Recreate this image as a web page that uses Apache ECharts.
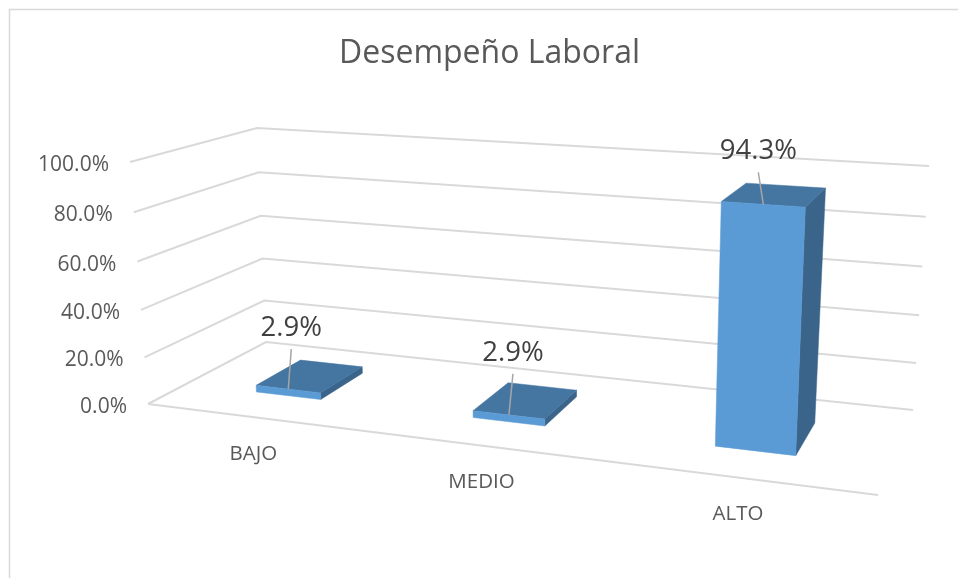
<!DOCTYPE html>
<html><head><meta charset="utf-8">
<style>html,body{margin:0;padding:0;background:#fff}#c{width:958px;height:578px}</style>
<script src="https://cdn.jsdelivr.net/npm/echarts@6/dist/echarts.min.js"></script>
</head><body><div id="c"></div>
<script>
const titleText = 'Desempeño Laboral';
const categories = ['BAJO', 'MEDIO', 'ALTO'];
const values = [2.9, 2.9, 94.3];
const yTicks = [0, 20, 40, 60, 80, 100];

// perspective box: floor corners, and the three visible corners at value 100
const floorQuad = {A:[148,404], B:[266,342], C:[913,410], D:[878,495]};
const roofTri   = {A:[130,162], B:[257,128], C:[929,166]};
const heightPersp = -0.046;
const barFrac = 0.308, depthFront = 0.30, depthBack = 0.70;
const labelShift = [[3,-61],[4,-62],[-5,-53]];
const FONT = '"Open Sans", sans-serif';
const colors = {front:'#5B9BD5', top:'#4575A1', side:'#3A648A', grid:'#D9D9D9', leader:'#A6A6A6', axisText:'#595959', dataText:'#404040'};

const proj = (function(){
  const {A,B,C,D} = floorQuad;
  const dx1=D[0]-C[0], dy1=D[1]-C[1], dx2=B[0]-C[0], dy2=B[1]-C[1];
  const sx=A[0]-D[0]+C[0]-B[0], sy=A[1]-D[1]+C[1]-B[1];
  const den=dx1*dy2-dx2*dy1;
  const g=(sx*dy2-dx2*sy)/den, h=(dx1*sy-sx*dy1)/den;
  const floor=[0,1].map(k=>({a:D[k]-A[k]+g*D[k], b:B[k]-A[k]+h*B[k], c:A[k]}));
  const i=heightPersp;
  const roof=[0,1].map(k=>{
    const c=roofTri.A[k]*(1+i);
    const b=roofTri.B[k]*(1+h+i)-c;
    const a=roofTri.C[k]*(1+g+h+i)-c-b;
    return {a,b,c};
  });
  // u across the floor, d into the depth, v up (all 0..1)
  return (u,d,v)=>{
    const w=1+g*u+h*d+i*v;
    return [0,1].map(k=>{
      const nf=floor[k].a*u+floor[k].b*d+floor[k].c;
      const nr=roof[k].a*u+roof[k].b*d+roof[k].c;
      return (nf+(nr-nf)*v)/w;
    });
  };
})();
function norm(params, pt){
  const c = params.coordSys;
  return [(pt[0]-c.x)/c.width, (c.y+c.height-pt[1])/c.height];
}
function gridItem(params, api){
  const val = api.value(0);
  const v = norm(params, api.coord([0,val]))[1];
  const a=proj(0,0,v), b=proj(0,1,v), c=proj(1,1,v);
  const line = {stroke:colors.grid, lineWidth:2, fill:null};
  const kids = [
    {type:'polyline', shape:{points:[a,b,c]}, style:line},
    {type:'text', style:{text:val.toFixed(1)+'%', x:a[0]-21, y:a[1]+3, align:'right', verticalAlign:'middle', fill:colors.axisText, font:'21px '+FONT}}
  ];
  if (val===0) kids.push({type:'polyline', shape:{points:[a,proj(1,0,0)]}, style:line});
  return {type:'group', children:kids};
}
function barItem(params, api){
  const i = params.dataIndex;
  const pos = norm(params, api.coord([api.value(0), api.value(1)]));
  const half = barFrac*api.size([1,0])[0]/params.coordSys.width/2;
  const u0=pos[0]-half, u1=pos[0]+half, v=pos[1];
  const fb0=proj(u0,depthFront,0), fb1=proj(u1,depthFront,0), bb1=proj(u1,depthBack,0);
  const ft0=proj(u0,depthFront,v), ft1=proj(u1,depthFront,v), bt1=proj(u1,depthBack,v), bt0=proj(u0,depthBack,v);
  const mid=[(ft0[0]+ft1[0])/2,(ft0[1]+ft1[1])/2];
  const lab=[mid[0]+labelShift[i][0], mid[1]+labelShift[i][1]];
  const axisPt=proj(pos[0],0,0);
  const poly=(pts,fill)=>({type:'polygon',shape:{points:pts},style:{fill,stroke:fill,lineWidth:0.5}});
  return {type:'group', children:[
    poly([ft1,fb1,bb1,bt1],colors.side),
    poly([ft0,ft1,bt1,bt0],colors.top),
    poly([ft0,ft1,fb1,fb0],colors.front),
    {type:'line', shape:{x1:mid[0],y1:mid[1],x2:lab[0],y2:lab[1]+21}, style:{stroke:colors.leader,lineWidth:1.5}},
    {type:'text', style:{text:api.value(1).toFixed(1)+'%', x:lab[0], y:lab[1], align:'center', verticalAlign:'middle', fill:colors.dataText, font:'27.5px '+FONT}},
    {type:'text', style:{text:categories[i], x:axisPt[0]+0.5, y:axisPt[1]+37, align:'center', verticalAlign:'middle', fill:colors.axisText, font:'20.5px '+FONT}}
  ]};
}
const chart = echarts.init(document.getElementById('c'), null, {renderer:'canvas'});
chart.setOption({
  animation:false,
  backgroundColor:'#fff',
  title:{text:titleText, left:484.5, top:33, textAlign:'center', textStyle:{color:colors.axisText, fontFamily:FONT, fontWeight:'normal', fontSize:32}},
  graphic:[{type:'polyline', silent:true, shape:{points:[[9.5,578],[9.5,9.5],[958,9.5]]}, style:{stroke:colors.grid, lineWidth:1.5, fill:null}}],
  grid:{left:100,right:100,top:100,bottom:100},
  xAxis:{type:'category', data:categories, show:false},
  yAxis:{type:'value', min:0, max:100, interval:20, show:false},
  series:[
    {type:'custom', coordinateSystem:'cartesian2d', clip:false, silent:true, renderItem:gridItem, encode:{y:0}, data:yTicks.map(v=>[v]), z:1},
    {type:'custom', coordinateSystem:'cartesian2d', clip:false, silent:true, renderItem:barItem, encode:{x:0,y:1}, data:values.map((v,i)=>[i,v]), z:2}
  ]
});
</script></body></html>
